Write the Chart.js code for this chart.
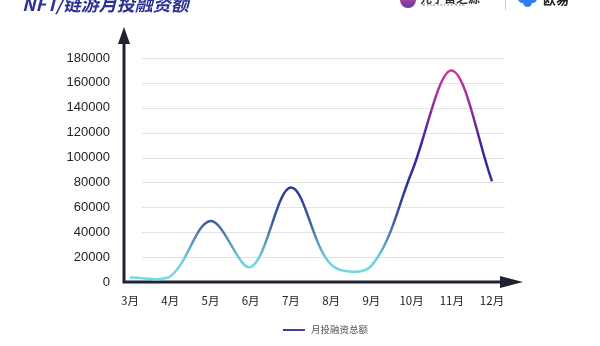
<!DOCTYPE html>
<html>
<head>
<meta charset="utf-8">
<script src="https://cdn.jsdelivr.net/npm/chart.js@4"></script>
<style>
  html, body { margin: 0; padding: 0; background: #fff; }
  #wrap { position: relative; width: 600px; height: 346px; overflow: hidden; }
  #chart { position: absolute; left: 0; top: 0; }
  .title { position: absolute; left: 22px; top: -10px; line-height: 20px; font: italic bold 18px 'Noto Sans CJK SC', sans-serif; color: #2d3192; white-space: nowrap; }
  .logo1 { position: absolute; left: 400px; top: -8px; width: 16px; height: 16px; border-radius: 50%; background: linear-gradient(180deg, #d84a9a, #5a3aa8); }
  .logo1t { position: absolute; left: 420px; top: -9px; font: bold 12px 'Noto Sans CJK SC', sans-serif; color: #333; line-height: 14px; }
  .logo1s { position: absolute; left: 422px; top: 3px; font: 3.5px 'Liberation Sans', sans-serif; letter-spacing: 1.8px; color: #555; }
  .divider { position: absolute; left: 505px; top: 0; width: 1px; height: 10px; background: #ccc; }
  .logo2 { position: absolute; left: 518px; top: 0; width: 20px; height: 10px; }
  .logo2 span { position: absolute; width: 9px; height: 9px; border-radius: 50%; background: #2f7df0; }
  .logo2t { position: absolute; left: 543px; top: -9px; font: bold 13px 'Noto Sans CJK SC', sans-serif; color: #222; line-height: 15px; }
  .legend { position: absolute; left: 283px; top: 322px; font: 9.5px 'Noto Sans CJK SC', sans-serif; color: #555; white-space: nowrap; }
  .legend i { display: inline-block; width: 22px; height: 2px; vertical-align: middle; margin-right: 6px; background: linear-gradient(90deg, #2b3fa0, #7a2ea2); }
</style>
</head>
<body>
<div id="wrap">
  <canvas id="chart" width="600" height="346"></canvas>
  <div class="title">NFT/链游月投融资额</div>
  <div class="logo1"></div>
  <div class="logo1t">元宇宙之源</div>
  <div class="logo1s">MetaverseHub</div>
  <div class="divider"></div>
  <div class="logo2"><span style="left:0;top:-6px"></span><span style="left:10px;top:-6px"></span><span style="left:5px;top:-2px"></span></div>
  <div class="logo2t">欧易</div>
  <div class="legend"><i></i>月投融资总额</div>
</div>
<script>
// Data
const months = ["3月", "4月", "5月", "6月", "7月", "8月", "9月", "10月", "11月", "12月"];
const amounts = [3500, 4500, 49000, 12000, 76000, 14000, 13000, 88000, 170000, 81000];
const yTicks = [0, 20000, 40000, 60000, 80000, 100000, 120000, 140000, 160000, 180000];

// Line gradient by value height
function lineGradient(chart) {
  const { ctx, chartArea, scales } = chart;
  if (!chartArea) return "#2a3595";
  const y0 = scales.y.getPixelForValue(0);
  const y1 = scales.y.getPixelForValue(180000);
  const g = ctx.createLinearGradient(0, y0, 0, y1);
  g.addColorStop(0.0, "#74dde4");
  g.addColorStop(0.1, "#6ccfdc");
  g.addColorStop(0.27, "#3d5e9c");
  g.addColorStop(0.42, "#27369a");
  g.addColorStop(0.6, "#3b22a3");
  g.addColorStop(0.8, "#9a2ca0");
  g.addColorStop(0.95, "#d8388e");
  return g;
}

// Gridlines and arrowed axes
const axesPlugin = {
  id: "arrowAxes",
  beforeDatasetsDraw(chart) {
    const { ctx, scales } = chart;
    const y = scales.y;
    ctx.save();
    ctx.strokeStyle = "#e3e3e3";
    ctx.lineWidth = 1;
    yTicks.slice(1).forEach(v => {
      const py = Math.round(y.getPixelForValue(v)) + 0.5;
      ctx.beginPath();
      ctx.moveTo(142, py);
      ctx.lineTo(505, py);
      ctx.stroke();
    });
    const ax = 124;
    const ay = y.getPixelForValue(0);
    ctx.strokeStyle = "#1f2230";
    ctx.fillStyle = "#1f2230";
    ctx.lineWidth = 3;
    ctx.beginPath();
    ctx.moveTo(ax, ay + 1.5);
    ctx.lineTo(ax, 42);
    ctx.moveTo(ax - 1.5, ay);
    ctx.lineTo(502, ay);
    ctx.stroke();
    ctx.beginPath();
    ctx.moveTo(ax, 27);
    ctx.lineTo(ax - 6, 44);
    ctx.lineTo(ax + 6, 44);
    ctx.closePath();
    ctx.fill();
    ctx.beginPath();
    ctx.moveTo(523, ay);
    ctx.lineTo(500, ay - 6);
    ctx.lineTo(500, ay + 6);
    ctx.closePath();
    ctx.fill();
    ctx.restore();
  }
};

new Chart(document.getElementById("chart"), {
  type: "line",
  data: {
    labels: months,
    datasets: [{
      label: "月投融资总额",
      data: amounts,
      borderColor: ctx => lineGradient(ctx.chart),
      borderWidth: 2.5,
      tension: 0.34,
      pointRadius: 0,
      fill: false,
      clip: false
    }]
  },
  options: {
    responsive: false,
    animation: false,
    layout: { padding: { left: 0, right: 108, top: 58, bottom: 24 } },
    plugins: { legend: { display: false }, tooltip: { enabled: false } },
    scales: {
      x: {
        offset: false,
        grid: { display: false, drawTicks: false },
        border: { display: false },
        ticks: {
          color: "#222",
          padding: 12,
          maxRotation: 0,
          autoSkip: false,
          font: { family: "'Noto Sans CJK SC', sans-serif", size: 11.5 }
        },
        afterFit: s => { s.height = 40; }
      },
      y: {
        min: 0,
        max: 180000,
        grid: { display: false, drawTicks: false },
        border: { display: false },
        afterBuildTicks: s => { s.ticks = yTicks.map(v => ({ value: v })); },
        ticks: {
          color: "#222",
          padding: 20,
          callback: v => String(v),
          font: { family: "'Liberation Sans', Arial, sans-serif", size: 13 }
        },
        afterFit: s => { s.width = 130; }
      }
    }
  },
  plugins: [axesPlugin]
});
</script>
</body>
</html>
